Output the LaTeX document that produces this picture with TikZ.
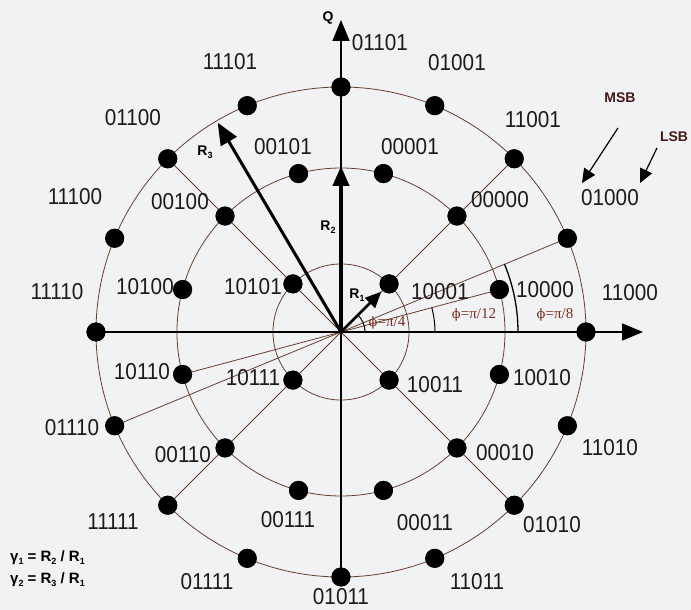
\documentclass[tikz,border=0pt]{standalone}
\usepackage{fontspec}
\setmainfont{Liberation Sans}
\newfontfamily\serifg{Liberation Serif}
\newfontfamily\phif{DejaVu Serif}
\usetikzlibrary{arrows.meta}
\definecolor{bg}{RGB}{241,242,244}
\definecolor{ln}{RGB}{105,62,48}
\definecolor{txt}{RGB}{30,26,26}
\definecolor{phic}{RGB}{120,45,30}
\definecolor{msbc}{RGB}{70,25,22}
\newcommand{\sbx}[1]{\raisebox{-2.5pt}{\fontsize{9}{9}\selectfont #1}}
\newcommand{\phisym}{{\phif\fontsize{13}{13}\selectfont ϕ}}
\begin{document}
\begin{tikzpicture}[x=1pt,y=1pt,
  thinln/.style={draw=ln,line width=0.8pt},
  ringln/.style={draw=ln,line width=0.8pt},
  axisln/.style={draw=black,line width=1.6pt,-{Triangle[length=21pt,width=17pt]}},
  angarc/.style={draw=black,line width=1pt},
  dot/.style={circle,fill=black,inner sep=0pt,minimum size=19pt},
  lbl/.style={font=\fontsize{23}{23}\selectfont,text=txt,inner sep=0pt,xscale=0.9},
  rlbl/.style={font=\fontsize{14}{14}\selectfont\bfseries,text=black,inner sep=0pt},
  philbl/.style={font=\serifg\fontsize{15}{15}\selectfont,text=phic,inner sep=0pt},
  bitlbl/.style={font=\fontsize{14}{14}\selectfont\bfseries,text=msbc,inner sep=0pt},
  glbl/.style={font=\fontsize{15}{15}\selectfont\bfseries,text=black,inner sep=0pt,anchor=west},
  bitarrow/.style={draw=black,line width=1.2pt,-{Triangle[length=14pt,width=13pt]}}
]
\fill[bg] (-341,-278) rectangle (350,332);
\useasboundingbox (-341,-278) rectangle (350,332);
\coordinate (O) at (0,0);
% rings
\draw[ringln] (O) circle[radius=68pt];
\draw[ringln] (O) circle[radius=164pt];
\draw[ringln] (O) circle[radius=245pt];
% dots
\foreach \c/\a in {10001/45,10101/135,10111/225,10011/315}
  \node[dot] (d\c) at (\a:68pt) {};
\foreach \c/\a in {10000/15,00000/45,00001/75,00101/105,00100/135,10100/165,10110/195,00110/225,00111/255,00011/285,00010/315,10010/345}
  \node[dot] (d\c) at (\a:164pt) {};
\foreach \c/\a in {11000/0,01000/22.5,11001/45,01001/67.5,01101/90,11101/112.5,01100/135,11100/157.5,11110/180,01110/202.5,11111/225,01111/247.5,01011/270,11011/292.5,01010/315,11010/337.5}
  \node[dot] (d\c) at (\a:245pt) {};
% spokes and angle lines
\foreach \c in {11001,01100,11111,01010,10000,01000,10110,01110}
  \draw[thinln] (O) -- (d\c.center);
% angle arcs
\draw[angarc] (0:24pt) arc[start angle=0,end angle=45,radius=24pt];
\draw[angarc] (0:94pt) arc[start angle=0,end angle=15,radius=94pt];
\draw[angarc,line width=1.3pt] (0:177pt) arc[start angle=0,end angle=22.5,radius=177pt];
% axes
\coordinate (xtip) at (302,0);
\coordinate (ytip) at (0,312);
\draw[axisln] (d11110.center) -- (xtip);
\draw[axisln] (d01011.center) -- (ytip);
% redraw dots on top of lines
\foreach \c in {10001,10101,10111,10011,10000,00000,00001,00101,00100,10100,10110,00110,00111,00011,00010,10010,11000,01000,11001,01001,01101,11101,01100,11100,11110,01110,11111,01111,01011,11011,01010,11010}
  \fill (d\c.center) circle[radius=9.5pt];
% radius arrows
\coordinate (r1tip) at (45:57pt);
\coordinate (r2tip) at (90:166pt);
\coordinate (r3tip) at (120.5:243pt);
\draw[line width=2.6pt,-{Triangle[length=16pt,width=14pt]}] (O) -- (r1tip);
\draw[line width=4pt,-{Triangle[length=20pt,width=16pt]}] (O) -- (r2tip);
\draw[line width=3pt,-{Triangle[length=22pt,width=18pt]}] (O) -- (r3tip);
% point labels
\foreach \c/\x/\y in {01101/39/289,01001/116/269,11101/-111/270,01100/-208/214,00101/-58/185,11001/192/212,00001/69/185,11100/-266/135,00100/-161/130,00000/159/132,01000/269/134,11110/-284/40,10100/-196/45,10101/-88/45,10001/99/40,10000/204/42,11000/289/39,10110/-199/-40,10111/-88/-46,10011/94/-53,10010/201/-46,01110/-269/-96,00110/-158/-123,00010/164/-121,11010/269/-116,11111/-228/-190,00111/-53/-188,00011/84/-191,01010/211/-193,01111/-134/-250,11011/136/-250,01011/0/-265}
  \node[lbl] (l\c) at (\x,\y) {\c};
% axis label
\node[rlbl] (qlbl) at (-13,314) {Q};
% radius labels
\node[rlbl] (R3lbl) at (-136,180) {R\sbx{3}};
\node[rlbl] (R2lbl) at (-13,105) {R\sbx{2}};
\node[rlbl] (R1lbl) at (16,37) {R\sbx{1}};
% angle labels
\node[philbl] (phi4) at (46,9) {\phisym=π/4};
\node[philbl] (phi12) at (133,17) {\phisym=π/12};
\node[philbl] (phi8) at (214,17) {\phisym=π/8};
% MSB / LSB
\node[bitlbl] (msb) at (279,234) {MSB};
\node[bitlbl] (lsb) at (333,195) {LSB};
\coordinate (msbs) at (277,204);
\coordinate (msbe) at (241,149);
\coordinate (lsbs) at (316,184);
\coordinate (lsbe) at (299,149);
\draw[bitarrow] (msbs) -- (msbe);
\draw[bitarrow] (lsbs) -- (lsbe);
% gamma definitions
\node[glbl] (g1) at (-331,-226) {γ\sbx{1} = R\sbx{2} / R\sbx{1}};
\node[glbl] (g2) at (-331,-248) {γ\sbx{2} = R\sbx{3} / R\sbx{1}};
\end{tikzpicture}
\end{document}
